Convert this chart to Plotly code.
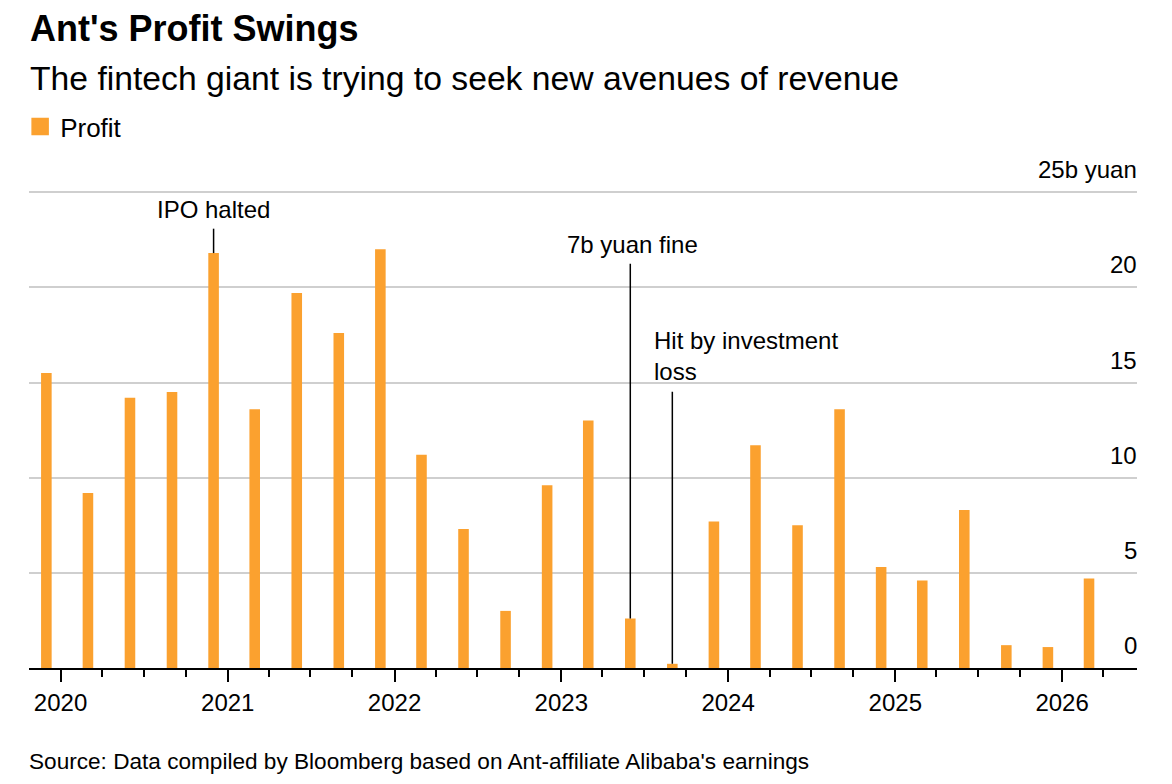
import plotly.graph_objects as go

# quarterly profit, billions of yuan (bars sit on the month the quarter ends)
quarters = [
    "2019-12-01", "2020-03-01", "2020-06-01", "2020-09-01",
    "2020-12-01", "2021-03-01", "2021-06-01", "2021-09-01",
    "2021-12-01", "2022-03-01", "2022-06-01", "2022-09-01",
    "2022-12-01", "2023-03-01", "2023-06-01", "2023-09-01",
    "2023-12-01", "2024-03-01", "2024-06-01", "2024-09-01",
    "2024-12-01", "2025-03-01", "2025-06-01", "2025-09-01",
    "2025-12-01", "2026-03-01",
]
profit = [
    15.5, 9.2, 14.2, 14.5,
    21.8, 13.6, 19.7, 17.6,
    22.0, 11.2, 7.3, 3.0,
    9.6, 13.0, 2.6, 0.22,
    7.7, 11.7, 7.5, 13.6,
    5.3, 4.6, 8.3, 1.2,
    1.1, 4.7,
]

y_ticks = [0, 5, 10, 15, 20, 25]
y_ticktext = ["0", "5", "10", "15", "20", "25b yuan"]

event_dates = ["2020-12-01", "2023-06-01", "2023-09-01"]
event_text = ["IPO halted", "7b yuan fine", "Hit by investment<br>loss"]

ORANGE = "#FBA12F"
FONT = "Liberation Sans, Arial, sans-serif"

# the page body has an 8px margin, so the figure is 16px smaller than the window
OFF = 8
W, H = 1172 - 2 * OFF, 784 - 2 * OFF
PX_PER_UNIT = 19.02  # pixels per billion yuan
YMAX = 26.9
# plot area in window pixels
LEFT, RIGHT, BOTTOM = 25, 1137, 668
TOP = BOTTOM - YMAX * PX_PER_UNIT


def py(px):
    # window pixel -> paper y
    return (BOTTOM - px) / (BOTTOM - TOP)


def val(px):
    # window pixel -> data y
    return (BOTTOM - px) / PX_PER_UNIT


fig = go.Figure()
fig.add_trace(go.Bar(
    x=quarters, y=profit,
    marker=dict(color=ORANGE, line_width=0),
    width=2.0e9,
    showlegend=False,
    name="Profit",
))
# legend entry only
fig.add_trace(go.Scatter(
    x=[None], y=[None], mode="markers", name="Profit",
    marker=dict(symbol="square", size=17, color=ORANGE,
                line=dict(color=ORANGE, width=1.5)),
))

# y tick labels sit above their gridlines, right aligned
for v, t in zip(y_ticks, y_ticktext):
    fig.add_annotation(x=1, y=v, xref="paper", yref="y", text=t,
                       showarrow=False, xanchor="right", yanchor="bottom",
                       xshift=2, yshift=7,
                       font=dict(family=FONT, size=24, color="black"))

# event call-outs: (line top px, text bottom px, x anchor, x shift)
callouts = [
    (229, 225, "center", 0),
    (264, 260, "center", 2),
    (392, 387, "left", -20),
]
for d, txt, (ltop, tbot, xa, xs) in zip(event_dates, event_text, callouts):
    bar_val = profit[quarters.index(d)]
    fig.add_shape(type="line", xref="x", yref="y",
                  x0=d, x1=d, y0=bar_val, y1=val(ltop),
                  line=dict(color="black", width=1.5))
    fig.add_annotation(x=d, y=val(tbot), xref="x", yref="y",
                       text=txt, showarrow=False, xanchor=xa, yanchor="bottom",
                       xshift=xs, align="left",
                       font=dict(family=FONT, size=24, color="black"))

fig.add_annotation(x=0, y=py(29), xref="paper", yref="paper",
                   text="<b>Ant's Profit Swings</b>", showarrow=False,
                   xanchor="left", yanchor="middle", xshift=-1,
                   font=dict(family=FONT, size=36, color="black"))
fig.add_annotation(x=0, y=py(78), xref="paper", yref="paper",
                   text="The fintech giant is trying to seek new avenues of revenue",
                   showarrow=False, xanchor="left", yanchor="middle", xshift=-1,
                   font=dict(family=FONT, size=33.7, color="black"))
fig.add_annotation(x=0, y=py(761), xref="paper", yref="paper",
                   text="Source: Data compiled by Bloomberg based on Ant-affiliate Alibaba's earnings",
                   showarrow=False, xanchor="left", yanchor="middle", xshift=-2,
                   font=dict(family=FONT, size=22.6, color="black"))

fig.update_layout(
    width=W, height=H,
    margin=dict(l=LEFT - OFF, r=W - (RIGHT - OFF), t=TOP - OFF,
                b=H - (BOTTOM - OFF), pad=0),
    paper_bgcolor="white", plot_bgcolor="white",
    font=dict(family=FONT, size=24, color="black"),
    showlegend=True,
    legend=dict(x=-0.008, y=py(127), xanchor="left", yanchor="middle",
                orientation="h", font=dict(size=26, color="black"),
                bgcolor="rgba(0,0,0,0)"),
    xaxis=dict(
        type="date",
        range=["2019-10-24", "2026-06-14"],
        tick0="2020-01-01", dtick="M12", tickformat="%Y",
        ticks="outside", ticklen=12, tickwidth=2, tickcolor="black",
        showline=True, linecolor="black", linewidth=2,
        showgrid=False, zeroline=False,
        tickfont=dict(size=24, color="black"),
        minor=dict(ticks="outside", ticklen=7, tickwidth=1.5,
                   tickcolor="black", dtick="M3", tick0="2020-01-01",
                   showgrid=False),
    ),
    yaxis=dict(
        side="right", range=[0, YMAX],
        tickvals=y_ticks, showticklabels=False,
        ticks="", showline=False, zeroline=False,
        showgrid=True, gridcolor="#cfcfcf", gridwidth=1.5,
    ),
)

fig.write_html("out.html")
